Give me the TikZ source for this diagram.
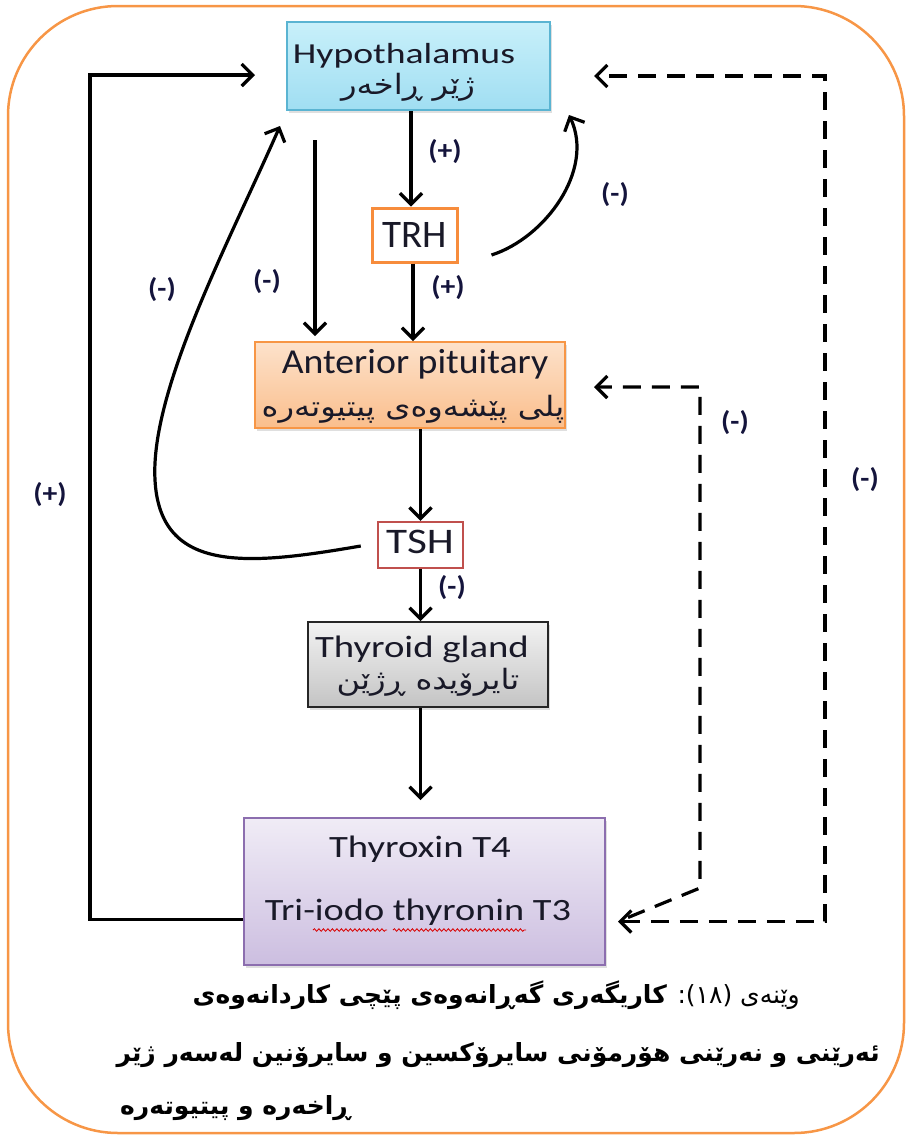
\documentclass[tikz,border=0pt]{standalone}
\usepackage{fontspec}
\usepackage{graphicx}
\setmainfont{Carlito}
\newfontfamily\arabicfont[Script=Arabic]{DejaVu Sans}
\TeXXeTstate=1
\usetikzlibrary{arrows.meta,shadows,decorations.pathmorphing,calc}
\definecolor{frameorange}{RGB}{247,150,70}
\definecolor{hyptop}{RGB}{200,240,250}
\definecolor{hypbot}{RGB}{160,222,242}
\definecolor{hypedge}{RGB}{90,180,210}
\definecolor{aptop}{RGB}{253,226,203}
\definecolor{apbot}{RGB}{250,190,140}
\definecolor{apedge}{RGB}{247,150,70}
\definecolor{thytop}{RGB}{242,242,242}
\definecolor{thybot}{RGB}{196,196,196}
\definecolor{thxtop}{RGB}{240,236,246}
\definecolor{thxbot}{RGB}{204,190,224}
\definecolor{thxedge}{RGB}{140,110,175}
\definecolor{trhedge}{RGB}{247,140,60}
\definecolor{tshedge}{RGB}{192,80,77}
\definecolor{ink}{RGB}{25,25,40}
\definecolor{labink}{RGB}{20,20,60}
\newcommand{\ku}[1]{{\arabicfont\beginR #1\endR}}
\newcommand{\hs}[2]{\scalebox{#1}[1]{#2}}
\begin{document}
\begin{tikzpicture}[x=1pt,y=-1pt,
  box/.style={draw, line width=2pt, inner sep=0pt, drop shadow={shadow xshift=2pt,shadow yshift=-3pt,opacity=0.25}},
  smallbox/.style={draw, fill=white, inner sep=0pt},
  txt/.style={inner sep=0pt, text=ink, anchor=base},
  kutxt/.style={inner sep=0pt, text=ink, anchor=base, font=\fontsize{28}{32}\selectfont},
  lab/.style={inner sep=0pt, text=labink, font=\bfseries\fontsize{27}{30}\selectfont},
  tip/.style={},
  arr/.style={line width=3.2pt, -{Straight Barb[length=11pt,width=22pt]}},
  darr/.style={line width=3.2pt, dash pattern=on 18pt off 11pt},
  captxt/.style={inner sep=0pt, text=black}
]
\path[use as bounding box] (0,0) rectangle (911,1136);
% frame
\draw[frameorange, line width=2.5pt, rounded corners=110pt] (8,6) rectangle (904,1133);

% boxes
\node[box, top color=hyptop, bottom color=hypbot, draw=hypedge, minimum width=263pt, minimum height=88pt] (hyp) at (418.5,66) {};
\node[txt, font=\fontsize{29}{32}\selectfont] (hypen) at (404,63) {\hs{1.3}{Hypothalamus}};
\node[kutxt] (hypku) at (408,94) {\hs{1.15}{\ku{ژێر ڕاخەر}}};

\node[smallbox, draw=trhedge, line width=3pt, minimum width=85pt, minimum height=54pt] (trh) at (414.5,235) {};
\node[txt, font=\fontsize{39}{42}\selectfont] (trht) at (415,247) {TRH};

\node[box, top color=aptop, bottom color=apbot, draw=apedge, minimum width=310pt, minimum height=86pt] (ap) at (410,385) {};
\node[txt, font=\fontsize{35}{38}\selectfont] (apen) at (415,373) {\hs{1.08}{Anterior pituitary}};
\node[kutxt] (apku) at (413,416) {\hs{1.15}{\ku{پلی پێشەوەی پیتیوتەرە}}};

\node[smallbox, draw=tshedge, line width=2.5pt, minimum width=85pt, minimum height=46pt] (tsh) at (420.5,545) {};
\node[txt, font=\fontsize{36}{40}\selectfont] (tsht) at (420,553) {\hs{1.2}{TSH}};

\node[box, top color=thytop, bottom color=thybot, draw=black!85, minimum width=240pt, minimum height=85pt] (thy) at (428,664.5) {};
\node[txt, font=\fontsize{31}{34}\selectfont] (thyen) at (422,657) {\hs{1.25}{Thyroid gland}};
\node[kutxt] (thyku) at (428,689) {\hs{1.15}{\ku{تایرۆیدە ڕژێن}}};

\node[box, top color=thxtop, bottom color=thxbot, draw=thxedge, minimum width=361pt, minimum height=147pt] (thx) at (424.5,891.5) {};
\node[txt, font=\fontsize{31}{34}\selectfont] (t4) at (420,857) {\hs{1.25}{Thyroxin T4}};
\node[txt, font=\fontsize{31}{34}\selectfont] (t3) at (418,920) {\hs{1.235}{Tri-iodo thyronin T3}};
\draw[red!85!black, line width=0.8pt, decorate, decoration={snake, amplitude=1.3pt, segment length=4.5pt}] (313,930) -- (387,930);
\draw[red!85!black, line width=0.8pt, decorate, decoration={snake, amplitude=1.3pt, segment length=4.5pt}] (393,930) -- (526,930);

% main chain
\draw[arr] (hyp.south -| 411,0) -- (trh.north -| 411,0);
\draw[arr] (trh.south -| 413,0) -- (ap.north -| 413,0);
\draw[arr] (ap.south -| tsh.center) -- (tsh.north);
\draw[arr] (tsh.south) -- (tsh.south |- thy.north);
\draw[arr, shorten >=17pt] (thy.south -| tsh.center) -- (thx.north -| tsh.center);

% left straight hyp -> ap
\coordinate (ls) at (315,140);
\draw[arr, shorten >=5pt] (ls) -- (ls |- ap.north);

% TRH curve to hypothalamus
\coordinate (c1s) at ($(trh.east)+(33,20)$);
\coordinate (c1e) at ($(hyp.south east)+(18,4)$);
\draw[arr] (c1s) .. controls (545,238) and (595,170) .. (c1e);

% TSH long curve to hypothalamus
\coordinate (c2s) at ($(tsh.west)+(-16,1)$);
\coordinate (c2e) at (280,126);
\coordinate (c2m) at (155,480);
\draw[arr] (c2s) .. controls (250,565) and (160,575) .. (c2m) .. controls (150,390) and (230,240) .. (c2e);

% left feedback loop (+)
\coordinate (lpc) at (90,75);
\draw[arr] ($(thx.west)+(0,28)$) -| (lpc) -- ($(hyp.west)+(-31,9)$);

% dashed feedback
\coordinate (dtip) at ($(thx.east)+(12,30)$);
\coordinate (orc) at (825,76);
\draw[darr, {Straight Barb[length=11pt,width=22pt]}-{Straight Barb[length=11pt,width=22pt]}] (dtip) -| (orc) -- ($(hyp.east)+(43,10)$);
\coordinate (ir1) at (700,888);
\coordinate (ir2) at (700,387);
\draw[darr, -{Straight Barb[length=11pt,width=22pt]}] ($(dtip)+(10,-4)$) -- (ir1) -- (ir2) -- ($(ap.east)+(28,2)$);

% labels
\node[lab] (l1) at (445,152) {\hs{1.1}{(+)}};
\node[lab] (l2) at (615,195) {\hs{1.1}{(-)}};
\node[lab] (l3) at (448,288) {\hs{1.1}{(+)}};
\node[lab] (l4) at (267,282) {\hs{1.1}{(-)}};
\node[lab] (l5) at (162,290) {\hs{1.1}{(-)}};
\node[lab] (l6) at (452,588) {\hs{1.1}{(-)}};
\node[lab] (l7) at (50,495) {\hs{1.1}{(+)}};
\node[lab] (l8) at (735,423) {\hs{1.1}{(-)}};
\node[lab] (l9) at (865,480) {\hs{1.1}{(-)}};

% caption
\node[captxt, anchor=east, font=\fontsize{25}{29}\selectfont] (cap1) at (800,995) {\ku{وێنەی (١٨): {\bfseries کاریگەری گەڕانەوەی پێچی کاردانەوەی}}};
\node[captxt, anchor=east, font=\bfseries\fontsize{25}{29}\selectfont] (cap2) at (880,1055) {\ku{ئەرێنی و نەرێنی هۆرمۆنی سایرۆکسین و سایرۆنین لەسەر ژێر}};
\node[captxt, anchor=west, font=\bfseries\fontsize{25}{29}\selectfont] (cap3) at (120,1108) {\ku{ڕاخەرە و پیتیوتەرە}};
\end{tikzpicture}
\end{document}
